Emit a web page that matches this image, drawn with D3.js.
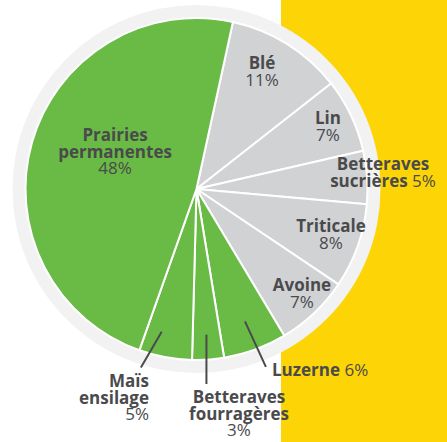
<!DOCTYPE html>
<html>
<head>
<meta charset="utf-8">
<script src="https://cdn.jsdelivr.net/npm/d3@7"></script>
<style>
  body { margin: 0; background: #fff; }
  svg { display: block; }
  text { font-family: "Open Sans", sans-serif; font-size: 17px; fill: #4a4a4c; }
  .name { font-weight: 700; }
  .pct { font-weight: 400; }
</style>
</head>
<body>
<script>
// DATA
const crops = ["Blé", "Lin", "Betteraves sucrières", "Triticale", "Avoine", "Luzerne", "Betteraves fourragères", "Maïs ensilage", "Prairies permanentes"];
const shares = [11, 7, 5, 8, 7, 6, 3, 5, 48];
const groups = ["cereal", "cereal", "cereal", "cereal", "cereal", "fodder", "fodder", "fodder", "fodder"];

// Dimensions
const width = 447;
const height = 442;
const cx = 196.5;
const cy = 189;
const radius = 171;
const ringRadius = 184;

const color = d3.scaleOrdinal().domain(["cereal", "fodder"]).range(["#d1d2d4", "#69bb46"]);

const data = crops.map((c, i) => ({ crop: c, share: shares[i], group: groups[i] }));

const startAngle = 12.3 * Math.PI / 180;
const pie = d3.pie().value(d => d.share).sort(null)
    .startAngle(startAngle).endAngle(startAngle + 2 * Math.PI);
const arcs = pie(data);

const arc = d3.arc().innerRadius(0).outerRadius(radius);

const svg = d3.select("body").append("svg")
    .attr("width", width)
    .attr("height", height);

// yellow band on the right
svg.append("rect")
    .attr("x", 281).attr("y", 0)
    .attr("width", width - 281).attr("height", height)
    .attr("fill", "#fdd506");

const g = svg.append("g").attr("transform", `translate(${cx},${cy})`);

// light ring round the pie
g.append("circle").attr("r", ringRadius).attr("fill", "#f2f2f2");

g.selectAll("path.slice")
    .data(arcs)
    .enter()
    .append("path")
    .attr("class", "slice")
    .attr("d", arc)
    .attr("fill", d => color(d.data.group))
    .attr("stroke", "#fff")
    .attr("stroke-width", 2)
    .attr("stroke-linejoin", "round");

// polar helper (angle clockwise from north)
const polar = (a, r) => [Math.sin(a) * r, -Math.cos(a) * r];
const mid = d => (d.startAngle + d.endAngle) / 2;
const deg = Math.PI / 180;

// label placement: [lines, dx, dy of first baseline, anchor]
const labels = {
  "Prairies permanentes": { lines: [["Prairies"], ["permanentes"], [null, "48%"]], x: -81.5, y: -48, anchor: "middle" },
  "Blé": { lines: [["Blé"], [null, "11%"]], x: 65.5, y: -120, anchor: "middle" },
  "Lin": { lines: [["Lin"], [null, "7%"]], x: 131.5, y: -65, anchor: "middle" },
  "Betteraves sucrières": { lines: [["Betteraves"], ["sucrières", " 5%"]], x: 186.5, y: -19, anchor: "middle" },
  "Triticale": { lines: [["Triticale"], [null, "8%"]], x: 134.5, y: 43, anchor: "middle" },
  "Avoine": { lines: [["Avoine"], [null, "7%"]], x: 105.5, y: 102, anchor: "middle" },
  "Luzerne": { lines: [["Luzerne", " 6%"]], x: 75.5, y: 187, anchor: "start" },
  "Betteraves fourragères": { lines: [["Betteraves"], ["fourragères"], [null, "3%"]], x: 42.5, y: 214, anchor: "middle" },
  "Maïs ensilage": { lines: [["Maïs"], ["ensilage"], [null, "5%"]], x: -47.5, y: 198, anchor: "end" }
};

// leader lines: outer end as [angle in degrees, radius], or vertical
const leaders = {
  "Luzerne": { r0: 141, end: [158.7, 191] },
  "Betteraves fourragères": { r0: 146, vertical: 195 },
  "Maïs ensilage": { r0: 147, end: [197.3, 187] }
};

arcs.forEach(d => {
  const L = leaders[d.data.crop];
  if (!L) return;
  const a = d.data.crop === "Maïs ensilage" ? 193.7 * deg : mid(d);
  const p0 = polar(a, L.r0);
  const p1 = L.vertical ? [p0[0], L.vertical] : polar(L.end[0] * deg, L.end[1]);
  g.append("line")
      .attr("x1", p0[0]).attr("y1", p0[1])
      .attr("x2", p1[0]).attr("y2", p1[1])
      .attr("stroke", "#4a4a4c")
      .attr("stroke-width", 2);
});

const lineH = 16.7;
arcs.forEach(d => {
  const lab = labels[d.data.crop];
  const t = g.append("text")
      .attr("text-anchor", lab.anchor)
      .attr("x", lab.x).attr("y", lab.y);
  lab.lines.forEach((ln, i) => {
    if (ln[0]) {
      t.append("tspan").attr("class", "name")
          .attr("x", lab.x).attr("y", lab.y + i * lineH)
          .text(ln[0]);
      if (ln[1]) t.append("tspan").attr("class", "pct").text(ln[1]);
    } else {
      t.append("tspan").attr("class", "pct")
          .attr("x", lab.x).attr("y", lab.y + i * lineH)
          .text(ln[1]);
    }
  });
});
</script>
</body>
</html>
